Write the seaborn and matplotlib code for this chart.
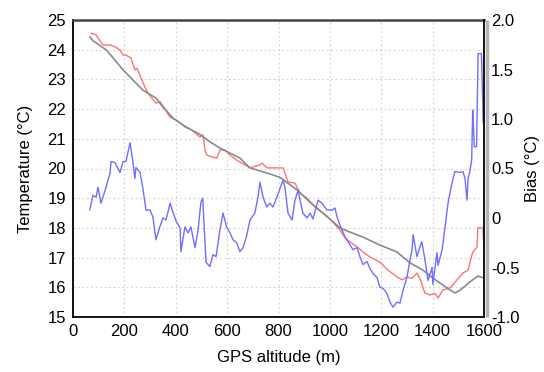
import matplotlib
matplotlib.use("Agg")
import matplotlib.pyplot as plt
import seaborn as sns
import pandas as pd

# Modelled temperature profile (grey)
model_alt = [66, 78, 130, 195, 272, 323, 350, 389, 440, 494, 533, 572, 650, 689,
             755, 806, 872, 922, 1000, 1039, 1078, 1129, 1195, 1261, 1312, 1362,
             1401, 1456, 1487, 1506, 1545, 1576, 1600]
model_temp = [24.43, 24.30, 23.99, 23.32, 22.64, 22.37, 22.07, 21.70, 21.40, 21.15,
              20.90, 20.69, 20.35, 20.02, 19.85, 19.70, 19.28, 18.87, 18.30, 18.00,
              17.86, 17.69, 17.42, 17.19, 16.82, 16.58, 16.31, 15.98, 15.81, 15.90,
              16.18, 16.38, 16.31]

# Measured temperature profile (red)
meas_alt = [70, 90, 97, 117, 144, 163, 183, 195, 206, 226, 241, 249, 265, 280, 292,
            304, 323, 339, 358, 377, 401, 417, 436, 460, 475, 494, 506, 514, 521,
            541, 560, 572, 592, 611, 638, 670, 689, 728, 736, 755, 786, 818, 837,
            864, 884, 911, 942, 988, 1000, 1039, 1059, 1078, 1106, 1129, 1156,
            1195, 1226, 1261, 1281, 1300, 1320, 1339, 1350, 1370, 1390, 1409,
            1421, 1440, 1468, 1495, 1518, 1538, 1553, 1557, 1573, 1576, 1596, 1600]
meas_temp = [24.56, 24.50, 24.40, 24.16, 24.16, 24.10, 23.99, 23.82, 23.82, 23.72,
             23.32, 23.38, 23.05, 22.74, 22.54, 22.40, 22.20, 22.25, 22.00, 21.73,
             21.63, 21.53, 21.40, 21.30, 21.20, 21.06, 21.13, 20.62, 20.45, 20.39,
             20.35, 20.62, 20.62, 20.45, 20.28, 20.12, 20.02, 20.12, 20.18, 20.02,
             20.02, 20.02, 19.55, 19.51, 19.17, 19.00, 18.70, 18.40, 18.30, 17.93,
             17.66, 17.53, 17.36, 17.19, 17.02, 16.85, 16.58, 16.35, 16.25, 16.35,
             16.30, 16.48, 16.30, 15.81, 15.74, 15.80, 15.64, 15.91, 15.98, 16.25,
             16.48, 16.58, 17.09, 17.19, 17.36, 18.00, 18.00, 17.30]

# Bias (blue, right axis)
bias_alt = [65, 78, 90, 97, 109, 125, 144, 148, 163, 183, 195, 206, 222, 234, 241,
            245, 261, 272, 284, 300, 311, 323, 339, 350, 362, 378, 389, 401, 417,
            420, 436, 448, 459, 475, 487, 498, 505, 518, 533, 545, 557, 572, 584,
            598, 611, 623, 637, 650, 662, 676, 689, 708, 720, 728, 740, 754, 767,
            778, 794, 806, 818, 825, 837, 853, 864, 876, 884, 895, 911, 923, 934,
            954, 969, 989, 1008, 1020, 1028, 1039, 1059, 1078, 1090, 1106, 1117,
            1129, 1145, 1156, 1168, 1183, 1195, 1207, 1222, 1234, 1246, 1261, 1273,
            1285, 1300, 1312, 1320, 1324, 1339, 1347, 1358, 1370, 1382, 1398, 1401,
            1417, 1421, 1437, 1448, 1460, 1475, 1487, 1506, 1518, 1526, 1534, 1538,
            1545, 1552, 1556, 1558, 1562, 1571, 1577, 1590, 1597]
bias_val = [0.08, 0.23, 0.21, 0.31, 0.15, 0.28, 0.45, 0.57, 0.56, 0.46, 0.57, 0.57,
            0.76, 0.55, 0.40, 0.51, 0.46, 0.30, 0.08, 0.08, 0.01, -0.22, -0.08,
            0.00, -0.02, 0.15, 0.06, -0.03, -0.10, -0.34, -0.09, -0.15, -0.09,
            -0.30, -0.12, 0.16, 0.20, -0.45, -0.49, -0.37, -0.39, -0.12, 0.05,
            -0.09, -0.15, -0.22, -0.25, -0.34, -0.30, -0.18, -0.02, 0.05, 0.21,
            0.36, 0.21, 0.11, 0.15, 0.11, 0.21, 0.30, 0.38, 0.31, 0.05, -0.02,
            0.18, 0.28, 0.18, 0.05, 0.00, 0.05, -0.01, 0.18, 0.15, 0.08, 0.08,
            0.10, 0.01, -0.07, -0.19, -0.27, -0.32, -0.30, -0.39, -0.47, -0.44,
            -0.51, -0.56, -0.60, -0.70, -0.71, -0.76, -0.85, -0.90, -0.85, -0.86,
            -0.73, -0.60, -0.42, -0.32, -0.17, -0.39, -0.32, -0.24, -0.42, -0.63,
            -0.50, -0.67, -0.35, -0.48, -0.32, -0.10, 0.15, 0.35, 0.47, 0.46,
            0.47, 0.40, 0.18, 0.40, 0.47, 0.59, 1.09, 0.99, 0.72, 0.72, 1.66,
            1.66, 0.96]

x_ticks = [0, 200, 400, 600, 800, 1000, 1200, 1400, 1600]
temp_ticks = [15, 16, 17, 18, 19, 20, 21, 22, 23, 24, 25]
bias_ticks = [2.0, 1.5, 1.0, 0.5, 0.0, -0.5, -1.0]
bias_tick_labels = ["2.0", "1.5", "1.0", "0.5", "0", "-0.5", "-1.0"]

sns.set_style("white")
plt.rcParams["font.family"] = ["Liberation Sans", "DejaVu Sans"]
plt.rcParams["font.size"] = 12
for key in ("text.color", "axes.labelcolor", "xtick.color", "ytick.color"):
    plt.rcParams[key] = "black"

fig = plt.figure(figsize=(5.44, 3.72), dpi=100)
ax = fig.add_axes([73 / 544, 1 - 317 / 372, 411 / 544, 297 / 372])

model_df = pd.DataFrame({"alt": model_alt, "temp": model_temp})
meas_df = pd.DataFrame({"alt": meas_alt, "temp": meas_temp})
bias_df = pd.DataFrame({"alt": bias_alt, "bias": bias_val})

sns.lineplot(data=meas_df, x="alt", y="temp", ax=ax, color="#ff7373",
             linewidth=1.0, sort=False, estimator=None, zorder=3)
sns.lineplot(data=model_df, x="alt", y="temp", ax=ax, color="#8a8a8a",
             linewidth=1.2, sort=False, estimator=None, zorder=4)

ax.set_xlim(0, 1600)
ax.set_ylim(15, 25)
ax.set_xticks(x_ticks)
ax.set_yticks(temp_ticks)
ax.grid(True, linestyle=(0, (1.5, 2.5)), color="#cfcfcf", linewidth=0.8)
ax.set_axisbelow(True)
ax.set_xlabel("GPS altitude (m)", fontsize=12, labelpad=8)
ax.set_ylabel("Temperature (°C)", fontsize=12, labelpad=10)
ax.tick_params(length=0, pad=5, labelsize=12, colors="black")

ax2 = ax.twinx()
sns.lineplot(data=bias_df, x="alt", y="bias", ax=ax2, color="#6e6eff",
             linewidth=1.0, sort=False, estimator=None, zorder=2)
ax2.set_ylim(-1.0, 2.0)
ax2.set_yticks(bias_ticks)
ax2.set_yticklabels(bias_tick_labels)
ax2.set_ylabel("Bias (°C)", fontsize=12, labelpad=4)
ax2.tick_params(length=0, pad=5, labelsize=12, colors="black")
ax2.grid(False)

for a in (ax, ax2):
    for s in a.spines.values():
        s.set_visible(False)
for name in ("left", "bottom"):
    ax.spines[name].set_visible(True)
    ax.spines[name].set_color("black")
    ax.spines[name].set_linewidth(1.3)
ax.spines["top"].set_visible(True)
ax.spines["top"].set_color("#444444")
ax.spines["top"].set_linewidth(1.8)
ax2.spines["right"].set_visible(True)
ax2.spines["right"].set_color("black")
ax2.spines["right"].set_linewidth(1.3)
ax2.spines["right"].set_zorder(5)

# soft shadow beside the right frame edge
ax2.plot([1.0065, 1.0065], [0, 1], transform=ax2.transAxes, color="#b5b5b5",
         linewidth=2.5, clip_on=False, zorder=1, solid_capstyle="butt")

fig.savefig("out.png", dpi=100)
